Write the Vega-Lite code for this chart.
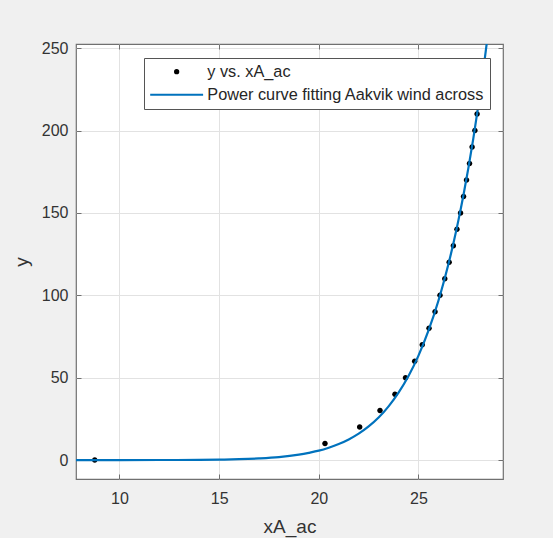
{
  "$schema": "https://vega.github.io/schema/vega-lite/v6.json",
  "width": 427,
  "height": 435,
  "autosize": {"type": "none"},
  "padding": {"left": 76, "top": 44, "right": 50, "bottom": 59},
  "background": "#f0f0f0",
  "config": {
    "font": "Liberation Sans",
    "view": {"fill": "white", "stroke": "#707070", "strokeWidth": 1.2},
    "axis": {
      "labelFont": "Liberation Sans",
      "titleFont": "Liberation Sans",
      "labelFontSize": 16,
      "titleFontSize": 19,
      "titleFontWeight": "normal",
      "labelColor": "#333333",
      "titleColor": "#333333",
      "tickColor": "#707070",
      "tickSize": -5,
      "domain": false,
      "gridColor": "#e2e2e2"
    }
  },
  "datasets": {
    "pts": [
      {"x": 8.76, "y": 0, "series": "y vs. xA_ac"},
      {"x": 20.31, "y": 10, "series": "y vs. xA_ac"},
      {"x": 22.05, "y": 20, "series": "y vs. xA_ac"},
      {"x": 23.07, "y": 30, "series": "y vs. xA_ac"},
      {"x": 23.82, "y": 40, "series": "y vs. xA_ac"},
      {"x": 24.35, "y": 50, "series": "y vs. xA_ac"},
      {"x": 24.81, "y": 60, "series": "y vs. xA_ac"},
      {"x": 25.19, "y": 70, "series": "y vs. xA_ac"},
      {"x": 25.53, "y": 80, "series": "y vs. xA_ac"},
      {"x": 25.83, "y": 90, "series": "y vs. xA_ac"},
      {"x": 26.08, "y": 100, "series": "y vs. xA_ac"},
      {"x": 26.32, "y": 110, "series": "y vs. xA_ac"},
      {"x": 26.54, "y": 120, "series": "y vs. xA_ac"},
      {"x": 26.75, "y": 130, "series": "y vs. xA_ac"},
      {"x": 26.93, "y": 140, "series": "y vs. xA_ac"},
      {"x": 27.11, "y": 150, "series": "y vs. xA_ac"},
      {"x": 27.26, "y": 160, "series": "y vs. xA_ac"},
      {"x": 27.41, "y": 170, "series": "y vs. xA_ac"},
      {"x": 27.56, "y": 180, "series": "y vs. xA_ac"},
      {"x": 27.69, "y": 190, "series": "y vs. xA_ac"},
      {"x": 27.83, "y": 200, "series": "y vs. xA_ac"},
      {"x": 27.94, "y": 210, "series": "y vs. xA_ac"}
    ],
    "fit": [
      {"x": 7.82, "y": 0, "series": "Power curve fitting Aakvik wind across"},
      {"x": 10, "y": 0.003, "series": "Power curve fitting Aakvik wind across"},
      {"x": 12, "y": 0.02, "series": "Power curve fitting Aakvik wind across"},
      {"x": 14, "y": 0.12, "series": "Power curve fitting Aakvik wind across"},
      {"x": 15, "y": 0.26, "series": "Power curve fitting Aakvik wind across"},
      {"x": 16, "y": 0.52, "series": "Power curve fitting Aakvik wind across"},
      {"x": 17, "y": 1.0, "series": "Power curve fitting Aakvik wind across"},
      {"x": 18, "y": 1.8, "series": "Power curve fitting Aakvik wind across"},
      {"x": 19, "y": 3.3, "series": "Power curve fitting Aakvik wind across"},
      {"x": 19.5, "y": 4.4, "series": "Power curve fitting Aakvik wind across"},
      {"x": 20, "y": 5.7, "series": "Power curve fitting Aakvik wind across"},
      {"x": 20.5, "y": 7.5, "series": "Power curve fitting Aakvik wind across"},
      {"x": 21, "y": 9.7, "series": "Power curve fitting Aakvik wind across"},
      {"x": 21.5, "y": 12.5, "series": "Power curve fitting Aakvik wind across"},
      {"x": 22, "y": 16.0, "series": "Power curve fitting Aakvik wind across"},
      {"x": 22.5, "y": 20.4, "series": "Power curve fitting Aakvik wind across"},
      {"x": 23, "y": 25.8, "series": "Power curve fitting Aakvik wind across"},
      {"x": 23.5, "y": 32.6, "series": "Power curve fitting Aakvik wind across"},
      {"x": 24, "y": 40.9, "series": "Power curve fitting Aakvik wind across"},
      {"x": 24.5, "y": 51.0, "series": "Power curve fitting Aakvik wind across"},
      {"x": 25, "y": 63.4, "series": "Power curve fitting Aakvik wind across"},
      {"x": 25.5, "y": 78.5, "series": "Power curve fitting Aakvik wind across"},
      {"x": 26, "y": 96.7, "series": "Power curve fitting Aakvik wind across"},
      {"x": 26.25, "y": 107.3, "series": "Power curve fitting Aakvik wind across"},
      {"x": 26.5, "y": 118.8, "series": "Power curve fitting Aakvik wind across"},
      {"x": 26.75, "y": 131.4, "series": "Power curve fitting Aakvik wind across"},
      {"x": 27, "y": 145.3, "series": "Power curve fitting Aakvik wind across"},
      {"x": 27.25, "y": 160.4, "series": "Power curve fitting Aakvik wind across"},
      {"x": 27.5, "y": 177.0, "series": "Power curve fitting Aakvik wind across"},
      {"x": 27.75, "y": 195.1, "series": "Power curve fitting Aakvik wind across"},
      {"x": 28, "y": 214.9, "series": "Power curve fitting Aakvik wind across"},
      {"x": 28.25, "y": 236.5, "series": "Power curve fitting Aakvik wind across"},
      {"x": 28.5, "y": 260, "series": "Power curve fitting Aakvik wind across"}
    ]
  },
  "layer": [
    {
      "data": {"name": "pts"},
      "mark": {"type": "point", "filled": true, "size": 79, "opacity": 1},
      "encoding": {
        "x": {
          "field": "x", "type": "quantitative",
          "scale": {"domain": [7.82, 29.24], "nice": false, "zero": false},
          "axis": {"orient": "bottom", "values": [10, 15, 20, 25], "grid": true, "labelPadding": 16, "title": "xA_ac", "titlePadding": 11}
        },
        "y": {
          "field": "y", "type": "quantitative",
          "scale": {"domain": [-11.5, 252.5], "nice": false, "zero": false},
          "axis": {"orient": "left", "values": [0, 50, 100, 150, 200, 250], "grid": true, "labelPadding": 13, "title": "y", "titlePadding": 10}
        },
        "color": {
          "field": "series", "type": "nominal",
          "scale": {"domain": ["y vs. xA_ac", "Power curve fitting Aakvik wind across"], "range": ["black", "#0072BD"]},
          "legend": {
            "orient": "none", "legendX": 68, "legendY": 14, "title": null,
            "direction": "vertical", "columns": 1, "padding": 5.5,
            "fillColor": "white", "strokeColor": "#555555",
            "labelFont": "Liberation Sans", "labelFontSize": 16.3, "labelColor": "#262626", "labelLimit": 500,
            "symbolSize": 28, "symbolOffset": 19, "labelOffset": 22.5, "rowPadding": 6,
            "symbolStrokeWidth": 2
          }
        },
        "shape": {
          "field": "series", "type": "nominal",
          "scale": {"domain": ["y vs. xA_ac", "Power curve fitting Aakvik wind across"], "range": ["M-0.62,0A0.62,0.62 0 1,0 0.62,0A0.62,0.62 0 1,0 -0.62,0Z", "M-10,0L10,0"]},
          "legend": {
            "orient": "none", "legendX": 68, "legendY": 14, "title": null,
            "direction": "vertical", "columns": 1, "padding": 5.5,
            "fillColor": "white", "strokeColor": "#555555",
            "labelFont": "Liberation Sans", "labelFontSize": 16.3, "labelColor": "#262626", "labelLimit": 500,
            "symbolSize": 28, "symbolOffset": 19, "labelOffset": 22.5, "rowPadding": 6,
            "symbolStrokeWidth": 2
          }
        }
      }
    },
    {
      "data": {"name": "fit"},
      "mark": {"type": "line", "clip": true, "strokeWidth": 2.2, "interpolate": "monotone"},
      "encoding": {
        "x": {
          "field": "x", "type": "quantitative",
          "axis": {"orient": "top", "values": [10, 15, 20, 25], "labels": false, "grid": false, "title": null}
        },
        "y": {
          "field": "y", "type": "quantitative",
          "axis": {"orient": "right", "values": [0, 50, 100, 150, 200, 250], "labels": false, "grid": false, "title": null}
        },
        "color": {"field": "series", "type": "nominal"}
      }
    }
  ],
  "resolve": {"axis": {"x": "independent", "y": "independent"}}
}
